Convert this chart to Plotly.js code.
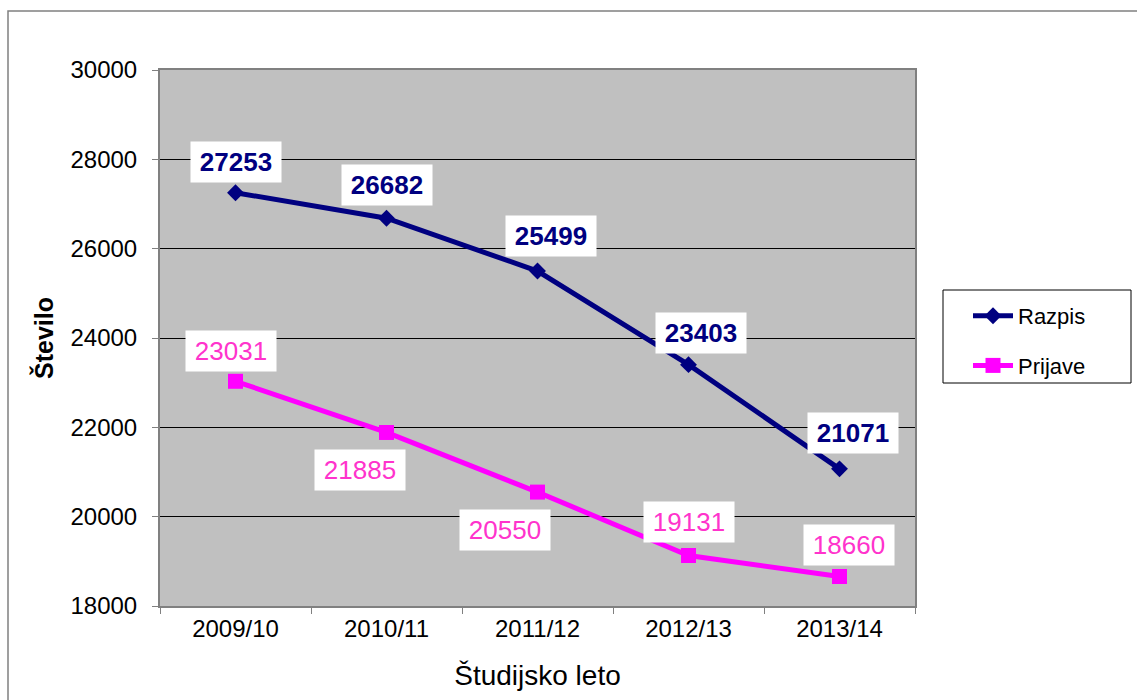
<!DOCTYPE html>
<html>
<head>
<meta charset="utf-8">
<script src="https://cdn.plot.ly/plotly-3.0.1.min.js"></script>
<style>html,body{margin:0;padding:0;background:#fff;}#chart{width:1137px;height:700px;}</style>
</head>
<body>
<div id="chart"></div>
<script>
const categories = ["2009/10", "2010/11", "2011/12", "2012/13", "2013/14"];
const razpis = [27253, 26682, 25499, 23403, 21071];
const prijave = [23031, 21885, 20550, 19131, 18660];
const yTicks = [18000, 20000, 22000, 24000, 26000, 28000, 30000];

const razpisShift = [[0, 31], [0, 33], [13, 35], [12, 32], [13, 36]];
const prijaveShift = [[-5, 30], [-27, -38], [-33, -38], [0, 33], [9, 32]];

const FONT = "Liberation Sans, Arial, sans-serif";

const traces = [
  {
    x: categories, y: razpis, name: "Razpis", type: "scatter", mode: "lines+markers",
    line: {color: "#000080", width: 5},
    marker: {symbol: "diamond", size: 13, color: "#000080"},
    legendgroup: "a"
  },
  {
    x: categories, y: prijave, name: "Prijave", type: "scatter", mode: "lines+markers",
    line: {color: "#FF00FF", width: 5},
    marker: {symbol: "square", size: 15, color: "#FF00FF"},
    legendgroup: "b"
  }
];

const annotations = [];
categories.forEach((c, i) => {
  annotations.push({
    x: c, y: razpis[i], xref: "x", yref: "y", text: String(razpis[i]),
    showarrow: false, xshift: razpisShift[i][0], yshift: razpisShift[i][1],
    bgcolor: "#ffffff", width: 88, height: 38,
    font: {family: FONT, size: 26, color: "#000080", weight: "bold"}
  });
  annotations.push({
    x: c, y: prijave[i], xref: "x", yref: "y", text: String(prijave[i]),
    showarrow: false, xshift: prijaveShift[i][0], yshift: prijaveShift[i][1],
    bgcolor: "#ffffff", width: 88, height: 38,
    font: {family: FONT, size: 26, color: "#FF33CC"}
  });
});

const W = 755, H = 536, L = 160, T = 70;
const px = v => (v - L) / W;
const py = v => (T + H - v) / H;

const layout = {
  width: 1137, height: 700,
  margin: {l: 160, r: 222, t: 70, b: 94, pad: 0},
  paper_bgcolor: "#ffffff",
  plot_bgcolor: "#C0C0C0",
  font: {family: FONT, color: "#000000"},
  showlegend: true,
  legend: {
    x: px(968), y: py(295), xanchor: "left", yanchor: "top",
    bgcolor: "rgba(0,0,0,0)", borderwidth: 0,
    font: {family: FONT, size: 22, color: "#000"},
    traceorder: "grouped", tracegroupgap: 18, itemwidth: 40
  },
  xaxis: {
    type: "category", range: [-0.5, 4.5],
    tickfont: {family: FONT, size: 24, color: "#000"},
    ticks: "outside", ticklen: 6, tickcolor: "#808080", tickson: "boundaries",
    showline: true, linecolor: "#808080", linewidth: 2, mirror: true,
    showgrid: false, zeroline: false,
    title: {text: "Študijsko leto", font: {family: FONT, size: 28, color: "#000"}, standoff: 25}
  },
  yaxis: {
    range: [18000, 30000], tickvals: yTicks, ticktext: yTicks.map(String),
    tickfont: {family: FONT, size: 24, color: "#000"},
    ticks: "outside", ticklen: 6, tickcolor: "#808080", ticklabelstandoff: 10,
    showline: true, linecolor: "#808080", linewidth: 2, mirror: true,
    showgrid: true, gridcolor: "#000000", gridwidth: 1, zeroline: false,
    title: {text: "Število", font: {family: FONT, size: 25, color: "#000", weight: "bold"}, standoff: 10}
  },
  shapes: [
    {type: "rect", xref: "paper", yref: "paper", x0: px(8), x1: px(1150), y0: py(11), y1: py(720),
     line: {color: "#808080", width: 1.5}, fillcolor: "rgba(0,0,0,0)", layer: "below"},
    {type: "rect", xref: "paper", yref: "paper", x0: px(943), x1: px(1131), y0: py(290), y1: py(383),
     line: {color: "#000000", width: 1}, fillcolor: "#ffffff", layer: "above"}
  ],
  annotations: annotations
};

Plotly.newPlot("chart", traces, layout, {displayModeBar: false, staticPlot: true});
</script>
</body>
</html>
